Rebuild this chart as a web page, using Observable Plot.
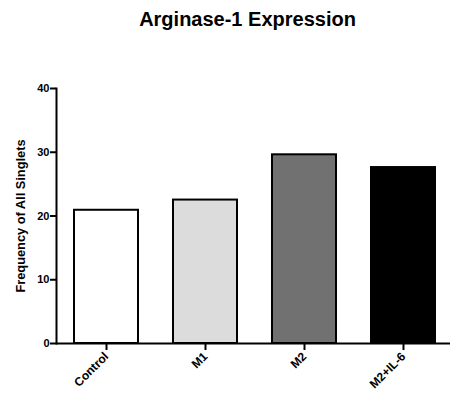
<!DOCTYPE html>
<html>
<head>
<meta charset="utf-8">
<script src="https://cdn.jsdelivr.net/npm/d3@7"></script>
<script src="https://cdn.jsdelivr.net/npm/@observablehq/plot@0.6"></script>
<style>
  html, body { margin: 0; padding: 0; background: #fff; }
  #chart svg { font-family: "Liberation Sans", Arial, sans-serif; overflow: visible; }
  #chart svg [aria-label="y-axis tick"] path,
  #chart svg [aria-label="x-axis tick"] path { stroke-width: 2; }
</style>
</head>
<body>
<div id="chart"></div>
<script>
const categories = ["Control", "M1", "M2", "M2+IL-6"];
const values = [20.9, 22.5, 29.6, 27.6];
const fills = ["#ffffff", "#dcdcdc", "#717171", "#000000"];
const yTicks = [0, 10, 20, 30, 40];
const title = "Arginase-1 Expression";
const yLabel = "Frequency of All Singlets";

const data = categories.map((c, i) => ({group: c, value: values[i]}));

const chart = Plot.plot({
  width: 450,
  height: 400,
  marginTop: 88,
  marginBottom: 57,
  marginLeft: 56,
  marginRight: 0,
  style: {fontFamily: '"Liberation Sans", Arial, sans-serif', color: "#000", background: "#fff"},
  x: {domain: categories, range: [56, 454], paddingInner: 0.35, paddingOuter: 0.175, axis: null},
  y: {domain: [0, 40], axis: null},
  color: {domain: categories, range: fills},
  marks: [
    Plot.barY(data, {x: "group", y: "value", fill: "group", stroke: "#000", strokeWidth: 2}),
    Plot.axisY({ticks: yTicks, tickSize: 6, tickPadding: 1, fontSize: 11, fontWeight: "bold", label: null}),
    Plot.axisX({tickSize: 7, tickRotate: -45, tickPadding: 4, fontSize: 12, fontWeight: "bold", label: null}),
    Plot.ruleY([0], {stroke: "#000", strokeWidth: 2}),
    Plot.frame({anchor: "left", stroke: "#000", strokeWidth: 2}),
    Plot.text([yLabel], {frameAnchor: "left", textAnchor: "middle", rotate: -90, dx: -36, fontSize: 12.8, fontWeight: "bold"}),
    Plot.text([title], {frameAnchor: "top", dy: -77, dx: -6, fontSize: 20, fontWeight: "bold"})
  ]
});
document.getElementById("chart").appendChild(chart);
</script>
</body>
</html>
